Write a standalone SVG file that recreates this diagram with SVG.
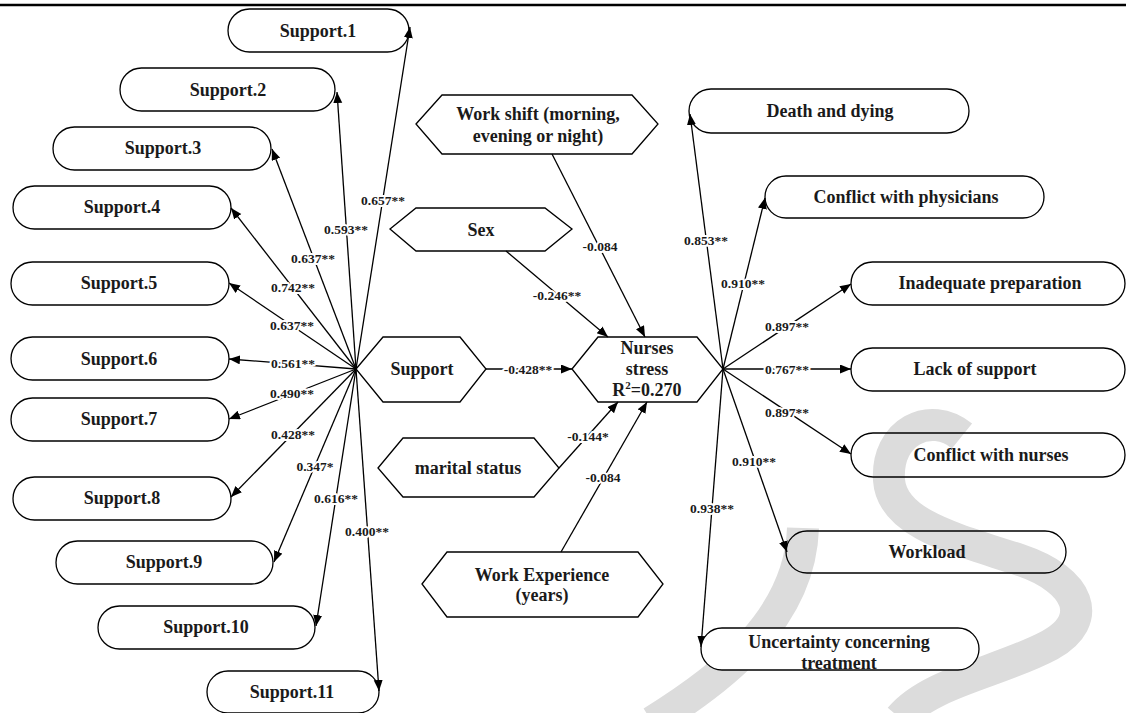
<svg xmlns="http://www.w3.org/2000/svg" width="1126" height="713" viewBox="0 0 1126 713">
<style>
.node{fill:none;stroke:#000;stroke-width:1.3}
.t{font-family:"Liberation Serif","Times New Roman",serif;font-weight:bold;font-size:18px;fill:#1a1a1a;text-anchor:middle}
.lbl{font-family:"Liberation Serif","Times New Roman",serif;font-weight:bold;font-size:13.5px;fill:#1a1a1a;text-anchor:middle;stroke:#fff;stroke-width:4;paint-order:stroke;stroke-linejoin:round}
.c{stroke:#000;stroke-width:1.3;fill:none;marker-end:url(#ah)}
.wm{fill:none;stroke:#dcdcdc;stroke-width:32}
</style>
<defs>
<marker id="ah" markerUnits="userSpaceOnUse" markerWidth="12" markerHeight="10" refX="11" refY="4.5" orient="auto">
<path d="M0,0 L11,4.5 L0,9 z" fill="#000"/>
</marker>
</defs>
<rect x="0" y="0" width="1126" height="713" fill="#fff"/>
<g id="watermark">
<path class="wm" d="M962 436 C930 410 886 432 889 480 C892 525 960 540 1020 560 C1080 580 1095 620 1050 645 C1000 672 930 682 900 718"/>
<path class="wm" d="M652 722 C720 680 800 620 803 528"/>
</g>
<line x1="0" y1="5" x2="1126" y2="5" stroke="#000" stroke-width="2.6"/>
<g id="connectors">
<line class="c" x1="356" y1="369" x2="410" y2="27"/>
<line class="c" x1="356" y1="369" x2="337" y2="92"/>
<line class="c" x1="356" y1="369" x2="272" y2="149"/>
<line class="c" x1="356" y1="369" x2="231" y2="208"/>
<line class="c" x1="356" y1="369" x2="229" y2="283"/>
<line class="c" x1="356" y1="369" x2="229" y2="359"/>
<line class="c" x1="356" y1="369" x2="229" y2="419"/>
<line class="c" x1="356" y1="369" x2="231" y2="497"/>
<line class="c" x1="356" y1="369" x2="274" y2="562"/>
<line class="c" x1="356" y1="369" x2="316" y2="626"/>
<line class="c" x1="356" y1="369" x2="379" y2="691"/>
<line class="c" x1="486" y1="369" x2="572" y2="369"/>
<line class="c" x1="552" y1="154" x2="645" y2="337"/>
<line class="c" x1="506" y1="251" x2="608" y2="337"/>
<line class="c" x1="559" y1="468" x2="618" y2="402"/>
<line class="c" x1="561" y1="552" x2="647" y2="402"/>
<line class="c" x1="723" y1="369" x2="690" y2="114"/>
<line class="c" x1="723" y1="369" x2="765" y2="198"/>
<line class="c" x1="723" y1="369" x2="851" y2="284"/>
<line class="c" x1="723" y1="369" x2="851" y2="369"/>
<line class="c" x1="723" y1="369" x2="851" y2="454"/>
<line class="c" x1="723" y1="369" x2="787" y2="552"/>
<line class="c" x1="723" y1="369" x2="701" y2="647"/>
<text class="lbl" x="383" y="204.5">0.657**</text>
<text class="lbl" x="346" y="233.5">0.593**</text>
<text class="lbl" x="313" y="262.5">0.637**</text>
<text class="lbl" x="293" y="291.5">0.742**</text>
<text class="lbl" x="292" y="329.5">0.637**</text>
<text class="lbl" x="293" y="367.5">0.561**</text>
<text class="lbl" x="292" y="397.5">0.490**</text>
<text class="lbl" x="293" y="438.5">0.428**</text>
<text class="lbl" x="315" y="470.5">0.347*</text>
<text class="lbl" x="336" y="502.5">0.616**</text>
<text class="lbl" x="367" y="535.5">0.400**</text>
<text class="lbl" x="528" y="373.5">-0.428**</text>
<text class="lbl" x="600" y="250.5">-0.084</text>
<text class="lbl" x="557" y="299.5">-0.246**</text>
<text class="lbl" x="588" y="440.5">-0.144*</text>
<text class="lbl" x="603" y="481.5">-0.084</text>
<text class="lbl" x="706" y="244.5">0.853**</text>
<text class="lbl" x="743" y="287.5">0.910**</text>
<text class="lbl" x="787" y="330.5">0.897**</text>
<text class="lbl" x="787" y="373.5">0.767**</text>
<text class="lbl" x="787" y="416.5">0.897**</text>
<text class="lbl" x="754" y="465.5">0.910**</text>
<text class="lbl" x="712" y="512.5">0.938**</text>
</g>
<g id="support1"><rect class="node" x="228" y="9" width="181" height="43" rx="21.5"/><text class="t" x="318" y="37">Support.1</text></g>
<g id="support2"><rect class="node" x="120" y="68" width="215" height="43" rx="21.5"/><text class="t" x="228" y="96">Support.2</text></g>
<g id="support3"><rect class="node" x="53" y="127" width="218" height="43" rx="21.5"/><text class="t" x="163" y="154">Support.3</text></g>
<g id="support4"><rect class="node" x="13" y="186" width="218" height="43" rx="21.5"/><text class="t" x="122" y="213">Support.4</text></g>
<g id="support5"><rect class="node" x="11" y="262" width="218" height="43" rx="21.5"/><text class="t" x="119" y="289">Support.5</text></g>
<g id="support6"><rect class="node" x="11" y="337" width="218" height="43" rx="21.5"/><text class="t" x="119" y="365">Support.6</text></g>
<g id="support7"><rect class="node" x="11" y="398" width="218" height="43" rx="21.5"/><text class="t" x="119" y="425">Support.7</text></g>
<g id="support8"><rect class="node" x="13" y="477" width="218" height="43" rx="21.5"/><text class="t" x="122" y="504">Support.8</text></g>
<g id="support9"><rect class="node" x="56" y="541" width="217" height="43" rx="21.5"/><text class="t" x="164" y="568">Support.9</text></g>
<g id="support10"><rect class="node" x="98" y="606" width="217" height="43" rx="21.5"/><text class="t" x="206" y="633">Support.10</text></g>
<g id="support11"><rect class="node" x="207" y="671" width="172" height="42" rx="21"/><text class="t" x="292" y="698">Support.11</text></g>
<g id="workshift"><polygon class="node" points="416,124 442,95 632,95 658,124 632,154 442,154"/><text class="t" x="538" y="120">Work shift (morning,</text><text class="t" x="538" y="142">evening or night)</text></g>
<g id="sex"><polygon class="node" points="390,229 416,208 545,208 572,229 545,251 416,251"/><text class="t" x="481" y="236">Sex</text></g>
<g id="support"><polygon class="node" points="356,369 383,337 460,337 486,369 460,402 383,402"/><text class="t" x="422" y="375">Support</text></g>
<g id="nursesstress"><polygon class="node" points="572,369 598,337 697,337 723,369 697,402 598,402"/><text class="t" x="647" y="354">Nurses</text><text class="t" x="647" y="375">stress</text><text class="t" x="647" y="396">R<tspan font-size="11" dy="-7">2</tspan><tspan dy="7">=0.270</tspan></text></g>
<g id="marital"><polygon class="node" points="378,468 403,438 534,438 559,468 534,497 403,497"/><text class="t" x="468" y="474">marital status</text></g>
<g id="workexp"><polygon class="node" points="422,584 447,552 638,552 663,584 638,617 447,617"/><text class="t" x="542" y="581">Work Experience</text><text class="t" x="542" y="601">(years)</text></g>
<g id="death"><rect class="node" x="689" y="89" width="280" height="44" rx="22"/><text class="t" x="830" y="117">Death and dying</text></g>
<g id="physicians"><rect class="node" x="765" y="176" width="279" height="42" rx="21"/><text class="t" x="906" y="203">Conflict with physicians</text></g>
<g id="preparation"><rect class="node" x="851" y="262" width="274" height="43" rx="21.5"/><text class="t" x="990" y="289">Inadequate preparation</text></g>
<g id="lacksupport"><rect class="node" x="851" y="348" width="274" height="43" rx="21.5"/><text class="t" x="975" y="375">Lack of support</text></g>
<g id="nurses"><rect class="node" x="851" y="433" width="274" height="44" rx="22"/><text class="t" x="991" y="461">Conflict with nurses</text></g>
<g id="workload"><rect class="node" x="786" y="531" width="280" height="42" rx="21"/><text class="t" x="927" y="558">Workload</text></g>
<g id="uncertainty"><rect class="node" x="701" y="628" width="278" height="42" rx="21" style="fill:#fff"/><text class="t" x="839" y="648">Uncertainty concerning</text><text class="t" x="839" y="669">treatment</text></g>
</svg>
